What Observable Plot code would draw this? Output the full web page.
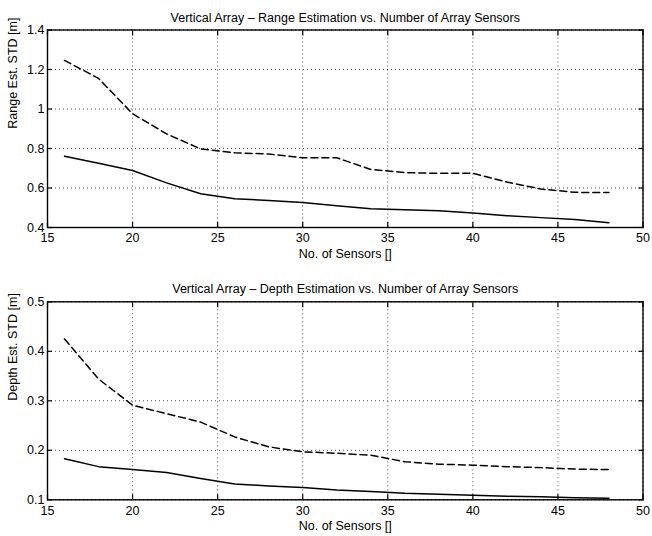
<!DOCTYPE html>
<html>
<head>
<meta charset="utf-8">
<script src="https://cdn.jsdelivr.net/npm/d3@7"></script>
<script src="https://cdn.jsdelivr.net/npm/@observablehq/plot@0.6"></script>
<style>
  html, body { margin: 0; padding: 0; background: #fff; }
  #chart { width: 652px; }
  #chart svg { display: block; }
</style>
</head>
<body>
<div id="chart"></div>
<script>
// ---- Data ----
const sensors = [16, 18, 20, 22, 24, 26, 28, 30, 32, 34, 36, 38, 40, 42, 44, 46, 48];

const rangeSolid  = [0.761, 0.725, 0.689, 0.626, 0.571, 0.545, 0.537, 0.527, 0.510, 0.495, 0.490, 0.485, 0.473, 0.460, 0.450, 0.440, 0.424];
const rangeDashed = [1.246, 1.155, 0.976, 0.874, 0.798, 0.778, 0.772, 0.753, 0.753, 0.694, 0.678, 0.674, 0.675, 0.630, 0.595, 0.578, 0.577];

const depthSolid  = [0.183, 0.167, 0.161, 0.155, 0.143, 0.132, 0.128, 0.125, 0.120, 0.117, 0.113, 0.111, 0.109, 0.107, 0.106, 0.104, 0.103];
const depthDashed = [0.425, 0.344, 0.291, 0.274, 0.257, 0.227, 0.207, 0.197, 0.194, 0.190, 0.177, 0.172, 0.170, 0.167, 0.165, 0.162, 0.161];

const xTicks = [15, 20, 25, 30, 35, 40, 45, 50];
const xTickLabels = ["15", "20", "25", "30", "35", "40", "45", "50"];
const rangeTicks = [0.4, 0.6, 0.8, 1.0, 1.2, 1.4];
const rangeTickLabels = ["0.4", "0.6", "0.8", "1", "1.2", "1.4"];
const depthTicks = [0.1, 0.2, 0.3, 0.4, 0.5];
const depthTickLabels = ["0.1", "0.2", "0.3", "0.4", "0.5"];

const rangeTitle = "Vertical Array \u2013 Range Estimation vs. Number of Array Sensors";
const depthTitle = "Vertical Array \u2013 Depth Estimation vs. Number of Array Sensors";
const xLabel = "No. of Sensors []";
const rangeYLabel = "Range Est. STD [m]";
const depthYLabel = "Depth Est. STD [m]";

// ---- Chart builder ----
function panel({solid, dashed, yTicks, yTickLabels, title, yLabel, marginTop, marginBottom, titleDy}) {
  const rows = sensors.map((s, i) => ({s, solid: solid[i], dashed: dashed[i]}));
  const grid = {stroke: "#000", strokeOpacity: 0.7, strokeDasharray: "1,3", strokeWidth: 1};
  return Plot.plot({
    width: 652,
    height: 268,
    marginLeft: 47,
    marginRight: 9.5,
    marginTop,
    marginBottom,
    style: {fontFamily: "'Liberation Sans', Arial, Helvetica, sans-serif", fontSize: "12px", color: "#000", background: "#fff"},
    x: {domain: [xTicks[0], xTicks[xTicks.length - 1]]},
    y: {domain: [yTicks[0], yTicks[yTicks.length - 1]]},
    marks: [
      Plot.gridX(xTicks, grid),
      Plot.gridY(yTicks, grid),
      Plot.line(rows, {x: "s", y: "solid", stroke: "#000", strokeWidth: 1.5}),
      Plot.line(rows, {x: "s", y: "dashed", stroke: "#000", strokeWidth: 1.5, strokeDasharray: "7,4"}),
      // inward ticks on all four sides
      Plot.axisX(xTicks, {anchor: "bottom", tickSize: -5, text: null, label: null, strokeWidth: 1.2}),
      Plot.axisX(xTicks, {anchor: "top", tickSize: -5, text: null, label: null, strokeWidth: 1.2}),
      Plot.axisY(yTicks, {anchor: "left", tickSize: -5, text: null, label: null, strokeWidth: 1.2}),
      Plot.axisY(yTicks, {anchor: "right", tickSize: -5, text: null, label: null, strokeWidth: 1.2}),
      // tick labels
      Plot.axisX(xTicks, {anchor: "bottom", tickSize: 0, tickPadding: 6, label: null,
        tickFormat: (d, i) => xTickLabels[i], fontSize: 12.5}),
      Plot.axisY(yTicks, {anchor: "left", tickSize: 0, tickPadding: 3, label: null,
        tickFormat: (d, i) => yTickLabels[i], fontSize: 12.5}),
      Plot.frame({stroke: "#000", strokeWidth: 1.4}),
      // titles
      Plot.text([title], {frameAnchor: "top", dy: titleDy, fontSize: 12.5}),
      Plot.text([xLabel], {frameAnchor: "bottom", dy: 30, fontSize: 12.5}),
      Plot.text([yLabel], {frameAnchor: "left", dx: -35, rotate: -90, fontSize: 12.5})
    ]
  });
}

const chart = document.getElementById("chart");
chart.append(panel({
  solid: rangeSolid, dashed: rangeDashed, yTicks: rangeTicks, yTickLabels: rangeTickLabels,
  title: rangeTitle, yLabel: rangeYLabel, marginTop: 29.5, marginBottom: 41, titleDy: -17
}));
chart.append(panel({
  solid: depthSolid, dashed: depthDashed, yTicks: depthTicks, yTickLabels: depthTickLabels,
  title: depthTitle, yLabel: depthYLabel, marginTop: 33.3, marginBottom: 36.7, titleDy: -18
}));
</script>
</body>
</html>
